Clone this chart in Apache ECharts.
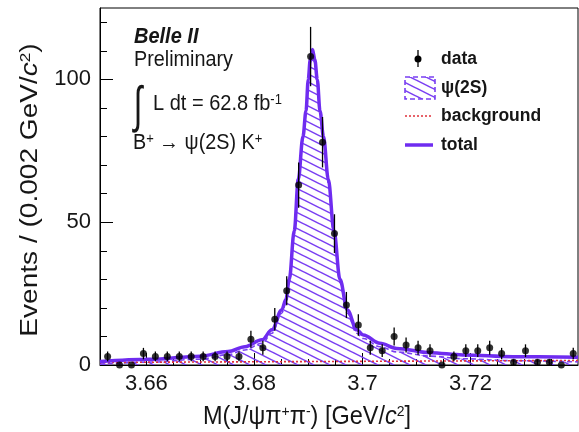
<!DOCTYPE html>
<html>
<head>
<meta charset="utf-8">
<script src="https://cdn.jsdelivr.net/npm/echarts@6/dist/echarts.min.js"></script>
<style>
html,body{margin:0;padding:0;background:#fff;}
#chart{width:579px;height:432px;}
</style>
</head>
<body>
<div id="chart"></div>
<script>
// ---- data ----
const binCenters = [3.65281,3.65502,3.65723,3.65944,3.66165,3.66386,3.66608,3.66829,3.67050,3.67271,
  3.67492,3.67713,3.67934,3.68155,3.68376,3.68597,3.68818,3.69039,3.69260,3.69481,
  3.69702,3.69923,3.70144,3.70365,3.70586,3.70807,3.71029,3.71250,3.71471,3.71692,
  3.71913,3.72134,3.72355,3.72576,3.72797,3.73018,3.73239,3.73460,3.73681,3.73902];
const counts = [3,0,0,4,3,3,3,3,3,3, 3,3,9,6,16,26,63,108,78,46, 21,14,6,5,10,7,6,5,0,3, 5,5,6,4,1,5,1,1,0,4];
const countErr = [1.73,0,0,2,1.73,1.73,1.73,1.73,1.73,1.73, 1.73,1.73,3,2.45,4,5.1,7.94,10.39,8.83,6.78,
  4.58,3.74,2.45,2.24,3.16,2.65,2.45,2.24,0,1.73, 2.24,2.24,2.45,2,1,2.24,1,1,0,2];
const fitX = [3.65139,3.66065,3.66991,3.67509,3.67824,3.68139,3.68324,3.68504,3.68583,3.68644,
  3.68737,3.68811,3.68898,3.68954,3.68996,3.69033,3.69074,3.69117,3.69163,3.69213,
  3.69278,3.69367,3.69472,3.69583,3.69719,3.69893,3.70015,3.70324,3.70633,3.71250,
  3.71861,3.72787,3.73991];
const totalFit = [1.2,2.0,3.1,4.7,6.4,8.8,12.3,19.3,23,30, 47,65,80,89,100,107,110.5,107,100,89,
  80,65,47,30,19.3,12.3,10.5,7.6,5.8,4.3, 3.5,2.9,2.7];
const signalFit = [0.3,1.03,2.05,3.61,5.27,7.64,11.1,18.1,21.8,28.8, 45.8,63.8,78.8,87.8,98.8,105.8,109.3,105.8,98.8,87.8,
  78.8,63.8,45.8,28.8,18.1,11.1,9.3,6.4,4.6,3.1, 2.2,1.5,1.1];
const bgX = [3.6514, 3.7399];
const bgFit = [0.9, 1.6];
const xTickLabels = [3.66, 3.68, 3.70, 3.72];
const xMinorTicks = [3.655,3.665,3.67,3.675,3.685,3.69,3.695,3.705,3.71,3.715,3.725,3.73,3.735];
const yTickLabels = [0, 50, 100];
const yMinorTicks = [10,20,30,40,60,70,80,90,110,120];

// ---- styling ----
const PURPLE = '#6f2cf0';
const HATCH = '#7a3ff2';
const FONT = '"Liberation Sans", Arial, Helvetica, sans-serif';
const NARROW = '"Liberation Sans Narrow", "Arial Narrow", sans-serif';
const TXT = '#161616';

function hatchCanvas(color) {
  const c = document.createElement('canvas');
  c.width = 16; c.height = 8;
  const g = c.getContext('2d');
  g.strokeStyle = color; g.lineWidth = 1.5;
  for (const dy of [-8, 0, 8]) {
    g.beginPath(); g.moveTo(-1, dy - 0.5); g.lineTo(17, dy + 8.5); g.stroke();
  }
  return c;
}
const hatchPattern = { image: hatchCanvas(HATCH), repeat: 'repeat' };

const chart = echarts.init(document.getElementById('chart'), null, { renderer: 'canvas' });

const xBase = { type: 'value', min: 3.6514, max: 3.7399, gridIndex: 0 };
const yBase = { type: 'value', min: 0, max: 125, gridIndex: 0 };
const supRich = { s: { fontSize: 13, fontFamily: FONT, verticalAlign: 'top', fill: TXT } };

const option = {
  animation: false,
  backgroundColor: '#fff',
  grid: { left: 100, right: 1, top: 8, bottom: 67, show: true, borderColor: '#000', borderWidth: 1, backgroundColor: 'transparent' },
  xAxis: [
    Object.assign({}, xBase, {
      position: 'bottom',
      axisLine: { show: true, onZero: false, lineStyle: { color: '#000', width: 1 } },
      axisTick: { show: true, inside: true, length: 12, customValues: xTickLabels, lineStyle: { color: '#000' } },
      axisLabel: { show: true, customValues: xTickLabels, margin: 8, fontSize: 22, color: TXT, fontFamily: NARROW,
        formatter: v => String(+v.toFixed(2)) },
      splitLine: { show: false }
    }),
    Object.assign({}, xBase, {
      position: 'bottom',
      axisLine: { show: false, onZero: false },
      axisTick: { show: true, inside: true, length: 6, customValues: xMinorTicks, lineStyle: { color: '#000' } },
      axisLabel: { show: false },
      splitLine: { show: false }
    })
  ],
  yAxis: [
    Object.assign({}, yBase, {
      position: 'left',
      axisLine: { show: true, onZero: false, lineStyle: { color: '#000', width: 1 } },
      axisTick: { show: true, inside: true, length: 13, customValues: yTickLabels, lineStyle: { color: '#000' } },
      axisLabel: { show: true, customValues: yTickLabels, margin: 9, fontSize: 22, color: TXT, fontFamily: NARROW },
      splitLine: { show: false }
    }),
    Object.assign({}, yBase, {
      position: 'left',
      axisLine: { show: false, onZero: false },
      axisTick: { show: true, inside: true, length: 7, customValues: yMinorTicks, lineStyle: { color: '#000' } },
      axisLabel: { show: false },
      splitLine: { show: false }
    })
  ],
  series: [
    {
      name: 'psi2S', type: 'line', xAxisIndex: 0, yAxisIndex: 0,
      data: fitX.map((x, i) => [x, signalFit[i]]),
      smooth: 0.35, smoothMonotone: 'x', showSymbol: false, symbol: 'none',
      lineStyle: { color: HATCH, width: 1.6, type: [5, 3] },
      areaStyle: { color: hatchPattern, opacity: 1 },
      z: 2
    },
    {
      name: 'background', type: 'line', xAxisIndex: 0, yAxisIndex: 0,
      data: bgX.map((x, i) => [x, bgFit[i]]),
      showSymbol: false, symbol: 'none',
      lineStyle: { color: '#e0303a', width: 1.6, type: [2, 2] },
      z: 3
    },
    {
      name: 'total', type: 'line', xAxisIndex: 0, yAxisIndex: 0,
      data: fitX.map((x, i) => [x, totalFit[i]]),
      smooth: 0.35, smoothMonotone: 'x', showSymbol: false, symbol: 'none',
      lineStyle: { color: PURPLE, width: 3.5 },
      z: 4
    },
    {
      name: 'errors', type: 'custom', xAxisIndex: 0, yAxisIndex: 0,
      data: binCenters.map((x, i) => [x, counts[i] - countErr[i], counts[i] + countErr[i]]),
      renderItem: function (params, api) {
        const p1 = api.coord([api.value(0), api.value(1)]);
        const p2 = api.coord([api.value(0), api.value(2)]);
        return { type: 'line', shape: { x1: p1[0], y1: p1[1], x2: p2[0], y2: p2[1] },
          style: { stroke: '#000', lineWidth: 1.3 } };
      },
      clip: true, z: 5
    },
    {
      name: 'data', type: 'scatter', xAxisIndex: 0, yAxisIndex: 0,
      data: binCenters.map((x, i) => [x, counts[i]]),
      symbol: 'circle', symbolSize: 7,
      itemStyle: { color: '#000' },
      z: 6
    }
  ],
  graphic: [
    // annotations
    { type: 'text', x: 134, y: 37, scaleY: 1.12, style: { text: 'Belle II', font: 'italic bold 20px ' + FONT, fill: TXT, verticalAlign: 'middle' } },
    { type: 'text', x: 134, y: 60, scaleY: 1.12, style: { text: 'Preliminary', font: '19.8px ' + FONT, fill: TXT, verticalAlign: 'middle' } },
    { type: 'text', x: 138, y: 108, scaleX: 0.72, scaleY: 1.15, style: { text: '\u222B', font: '44px ' + NARROW, fill: TXT, align: 'center', verticalAlign: 'middle' } },
    { type: 'text', x: 153, y: 104, scaleY: 1.1, style: { text: 'L dt = 62.8 fb{s|-1}', font: '20px ' + FONT, fill: TXT, verticalAlign: 'middle', rich: supRich } },
    { type: 'text', x: 133, y: 143, scaleY: 1.1, style: { text: 'B{s|+} \u2192 \u03C8(2S) K{s|+}', font: '19.8px ' + FONT, fill: TXT, verticalAlign: 'middle', rich: supRich } },
    // legend
    { type: 'line', shape: { x1: 418, y1: 50, x2: 418, y2: 67 }, style: { stroke: '#000', lineWidth: 1.3 } },
    { type: 'circle', shape: { cx: 418, cy: 59, r: 3.5 }, style: { fill: '#000' } },
    { type: 'text', x: 441, y: 59, style: { text: 'data', font: 'bold 17.5px ' + FONT, fill: TXT, verticalAlign: 'middle' } },
    { type: 'rect', shape: { x: 405, y: 77, width: 30, height: 22 }, style: { fill: hatchPattern, stroke: HATCH, lineWidth: 1.6, lineDash: [5, 3] } },
    { type: 'text', x: 441, y: 88, style: { text: '\u03C8(2S)', font: 'bold 17.5px ' + FONT, fill: TXT, verticalAlign: 'middle' } },
    { type: 'line', shape: { x1: 405, y1: 116, x2: 433, y2: 116 }, style: { stroke: '#e0303a', lineWidth: 1.6, lineDash: [2, 2] } },
    { type: 'text', x: 441, y: 116, style: { text: 'background', font: 'bold 17.5px ' + FONT, fill: TXT, verticalAlign: 'middle' } },
    { type: 'line', shape: { x1: 405, y1: 145, x2: 433, y2: 145 }, style: { stroke: PURPLE, lineWidth: 3.5 } },
    { type: 'text', x: 441, y: 145, style: { text: 'total', font: 'bold 17.5px ' + FONT, fill: TXT, verticalAlign: 'middle' } },
    // axis titles
    { type: 'text', x: 307, y: 417, scaleY: 1.08, style: { text: 'M(J/\u03C8\u03C0{s|+}\u03C0{s|-}) [GeV/{i|c}{s|2}]', font: '23.5px ' + FONT, fill: TXT,
        align: 'center', verticalAlign: 'middle',
        rich: { s: { fontSize: 14, fontFamily: FONT, verticalAlign: 'top', fill: TXT }, i: { fontSize: 23.5, fontStyle: 'italic', fontFamily: FONT, fill: TXT } } } },
    { type: 'text', x: 31, y: 190, rotation: Math.PI / 2, scaleX: 1.22, style: { text: 'Events / (0.002 GeV/{i|c}{s|2})', font: '23px ' + FONT, fill: TXT,
        align: 'center', verticalAlign: 'middle',
        rich: { s: { fontSize: 14, fontFamily: FONT, verticalAlign: 'top', fill: TXT }, i: { fontSize: 23, fontStyle: 'italic', fontFamily: FONT, fill: TXT } } } }
  ]
};
chart.setOption(option);
</script>
</body>
</html>
